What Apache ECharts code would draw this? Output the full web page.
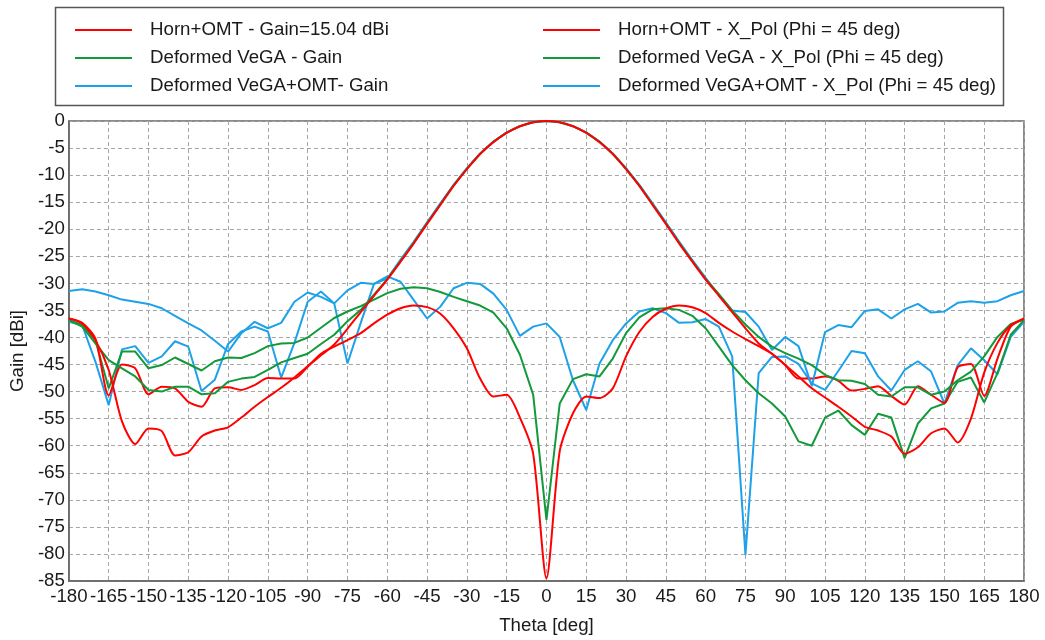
<!DOCTYPE html>
<html>
<head>
<meta charset="utf-8">
<script src="https://cdn.jsdelivr.net/npm/echarts@6/dist/echarts.min.js"></script>
<style>
  html, body { margin: 0; padding: 0; background: #fff; }
  #chart { width: 1045px; height: 640px; }
</style>
</head>
<body>
<div id="chart"></div>
<script>
// Theta samples (deg), one every 5 degrees
const theta = [
  -180, -175, -170, -165, -160, -155, -150, -145, -140, -135, -130, -125, -120,
  -115, -110, -105, -100, -95, -90, -85, -80, -75, -70, -65, -60, -55, -50,
  -45, -40, -35, -30, -25, -20, -15, -10, -5, 0, 5, 10, 15, 20, 25, 30,
  35, 40, 45, 50, 55, 60, 65, 70, 75, 80, 85, 90, 95, 100, 105, 110,
  115, 120, 125, 130, 135, 140, 145, 150, 155, 160, 165, 170, 175, 180
];

// Horn+OMT co-polar gain, normalised (dB)
const hornGain = [
  -36.5, -37.4, -40.5, -46.0, -55.5, -59.7, -56.8, -57.3, -61.8, -61.2, -58.3, -57.2, -56.6,
  -54.8, -52.8, -51.0, -49.3, -47.4, -45.3, -43.3, -41.3, -38.4, -35.3, -32.3, -29.3, -26.0, -22.6,
  -19.0, -15.5, -12.0, -8.9, -6.1, -3.9, -2.2, -0.98, -0.25, 0, -0.25, -0.98, -2.2, -3.9, -6.1, -8.9,
  -12.0, -15.5, -19.0, -22.6, -26.0, -29.3, -32.3, -35.3, -38.3, -41.1, -43.0, -45.1, -47.2, -49.4, -51.1, -52.8,
  -54.6, -56.5, -57.2, -58.3, -61.5, -60.3, -57.7, -56.8, -59.4, -55.0, -46.5, -41.0, -37.8, -36.5
];

// Deformed VeGA co-polar gain
const vegaGain = [
  -36.8, -38.0, -41.1, -44.2, -45.7, -47.2, -49.7, -50.0, -49.1, -49.1, -50.5, -50.3, -48.2,
  -47.6, -47.3, -46.0, -44.6, -43.8, -43.0, -41.2, -39.5, -37.0, -34.9, -32.1, -29.2, -25.9, -22.5,
  -18.9, -15.4, -11.9, -8.85, -6.05, -3.85, -2.15, -0.96, -0.24, 0, -0.24, -0.96, -2.15, -3.85, -6.05, -8.85,
  -11.9, -15.4, -18.9, -22.5, -25.9, -29.2, -32.0, -35.0, -37.6, -39.9, -41.7, -42.9, -43.9, -45.1, -46.9, -47.9,
  -48.0, -48.6, -50.6, -50.9, -49.2, -49.2, -50.6, -50.0, -47.9, -46.3, -43.5, -39.9, -37.5, -36.7
];

// Deformed VeGA+OMT co-polar gain
const vegaOmtGain = [
  -31.4, -31.1, -31.5, -32.2, -33.0, -33.4, -33.8, -34.6, -36.0, -37.4, -38.7, -40.6, -42.6,
  -39.2, -37.1, -38.3, -37.3, -33.4, -31.7, -32.5, -33.7, -31.3, -29.9, -30.1, -29.1, -25.6, -22.3,
  -18.7, -15.2, -11.8, -8.7, -6.0, -3.8, -2.1, -0.95, -0.24, 0, -0.24, -0.95, -2.1, -3.8, -6.0, -8.7,
  -11.8, -15.2, -18.7, -22.3, -25.7, -29.0, -32.2, -35.0, -35.3, -38.0, -42.3, -39.9, -41.6, -49.0, -39.0, -37.7,
  -38.1, -35.1, -34.8, -36.5, -34.8, -33.8, -35.4, -35.2, -33.6, -33.3, -33.6, -33.3, -32.2, -31.4
];

// Horn+OMT cross-polar level, Phi = 45 deg
const hornXpol = [
  -36.5, -37.3, -40.2, -50.7, -45.0, -45.7, -50.5, -49.1, -49.4, -51.9, -52.8, -49.4, -49.2,
  -49.7, -48.8, -47.5, -47.6, -47.6, -45.4, -43.0, -41.7, -40.5, -39.2, -37.4, -35.8, -34.6, -34.1,
  -34.4, -35.6, -38.3, -42.0, -47.6, -50.9, -50.6, -54.8, -61.5, -84.5, -61.0, -54.0, -50.9, -51.2, -49.4, -43.5,
  -39.0, -36.2, -34.7, -34.1, -34.4, -35.5, -37.3, -38.9, -40.3, -41.6, -43.0, -45.1, -47.6, -47.6, -47.2, -48.0,
  -49.8, -49.5, -49.0, -50.8, -52.4, -49.0, -50.6, -52.1, -45.5, -44.9, -50.8, -43.9, -38.0, -36.6
];

// Deformed VeGA cross-polar level, Phi = 45 deg
const vegaXpol = [
  -36.8, -37.7, -40.5, -49.4, -42.6, -42.6, -45.7, -45.1, -43.7, -44.9, -46.1, -44.4, -43.7,
  -43.8, -42.9, -41.6, -41.1, -41.0, -40.0, -38.2, -36.4, -35.2, -34.2, -33.0, -31.8, -31.0, -30.7,
  -30.9, -31.6, -32.5, -33.3, -34.1, -35.4, -38.3, -43.2, -50.6, -73.7, -52.2, -47.7, -46.8, -47.2, -43.9, -39.2,
  -36.3, -34.8, -34.6, -34.9, -36.0, -38.3, -41.7, -45.1, -47.9, -50.3, -52.2, -54.6, -59.2, -60.0, -54.8, -53.5,
  -56.2, -58.0, -54.1, -54.8, -62.3, -55.9, -53.1, -52.2, -48.2, -47.4, -52.0, -46.6, -39.5, -36.8
];

// Deformed VeGA+OMT cross-polar level, Phi = 45 deg
const vegaOmtXpol = [
  -37.1, -37.7, -44.5, -52.5, -42.2, -41.6, -44.7, -43.5, -40.7, -41.7, -49.9, -47.8, -41.2,
  -38.9, -38.0, -38.9, -47.4, -41.0, -33.4, -31.5, -33.7, -44.8, -37.3, -30.1, -28.7, -29.7, -33.1,
  -36.5, -34.3, -30.9, -29.9, -30.1, -31.9, -34.9, -39.7, -38.0, -37.4, -39.9, -47.9, -53.4, -44.8, -40.5, -37.4,
  -35.2, -34.6, -35.5, -37.3, -37.2, -36.6, -38.0, -43.5, -80.2, -46.6, -43.6, -43.5, -44.9, -48.5, -49.7, -46.2,
  -42.5, -42.9, -47.2, -49.8, -46.0, -44.4, -46.3, -52.2, -45.1, -42.0, -44.2, -46.8, -39.9, -37.1
];

const names = {
  hornGain: 'Horn+OMT - Gain=15.04 dBi',
  vegaGain: 'Deformed VeGA - Gain',
  vegaOmtGain: 'Deformed VeGA+OMT- Gain',
  hornXpol: 'Horn+OMT - X_Pol (Phi = 45 deg)',
  vegaXpol: 'Deformed VeGA - X_Pol (Phi = 45 deg)',
  vegaOmtXpol: 'Deformed VeGA+OMT - X_Pol (Phi = 45 deg)'
};

const RED = '#ff0000';
const GREEN = '#12993a';
const BLUE = '#1da1e8';
const FONT = '"Liberation Sans", Arial, sans-serif';
const FS = 18.7;
const TEXT = '#1a1a1a';

function pairs(values) {
  return theta.map((t, i) => [t, values[i]]);
}

function line(name, values, color, z, smooth) {
  return {
    name: name,
    type: 'line',
    data: pairs(values),
    symbol: 'none',
    showSymbol: false,
    smooth: smooth || false,
    z: z,
    lineStyle: { color: color, width: 2 },
    itemStyle: { color: color },
    emphasis: { disabled: true }
  };
}

const legendCommon = {
  orient: 'vertical',
  top: 19,
  padding: 0,
  icon: 'rect',
  itemWidth: 57,
  itemHeight: 2,
  itemGap: 6,
  selectedMode: false,
  textStyle: { fontFamily: FONT, fontSize: FS, color: TEXT, lineHeight: 22, padding: [0, 0, 0, 13] }
};

const chart = echarts.init(document.getElementById('chart'), null, { renderer: 'canvas' });

chart.setOption({
  animation: false,
  backgroundColor: '#ffffff',
  textStyle: { fontFamily: FONT },
  graphic: [{
    type: 'rect',
    z: 0,
    shape: { x: 55.5, y: 7.5, width: 948, height: 98 },
    style: { fill: '#ffffff', stroke: '#555555', lineWidth: 1.5 }
  }],
  legend: [
    Object.assign({}, legendCommon, { left: 75, data: [names.hornGain, names.vegaGain, names.vegaOmtGain] }),
    Object.assign({}, legendCommon, { left: 543, data: [names.hornXpol, names.vegaXpol, names.vegaOmtXpol] })
  ],
  grid: {
    left: 66, right: 21, top: 121, bottom: 59,
    show: true, borderColor: '#666666', borderWidth: 1.5, backgroundColor: '#ffffff'
  },
  xAxis: {
    type: 'value',
    min: -180, max: 180, interval: 15,
    name: 'Theta [deg]',
    nameLocation: 'middle',
    nameGap: 35,
    nameTextStyle: { fontFamily: FONT, fontSize: FS, color: TEXT },
    axisLine: { show: true, onZero: false, lineStyle: { color: '#666666', width: 1.5 } },
    axisTick: { show: false },
    axisLabel: { fontFamily: FONT, fontSize: FS, color: TEXT, margin: 6 },
    splitLine: { show: true, lineStyle: { color: '#a6a6a6', width: 1, type: [4, 3] } }
  },
  yAxis: {
    type: 'value',
    min: -85, max: 0, interval: 5,
    name: 'Gain [dBi]',
    nameLocation: 'middle',
    nameGap: 38,
    nameRotate: 90,
    nameTextStyle: { fontFamily: FONT, fontSize: FS, color: TEXT },
    axisLine: { show: true, onZero: false, lineStyle: { color: '#666666', width: 1.5 } },
    axisTick: { show: false },
    axisLabel: { fontFamily: FONT, fontSize: FS, color: TEXT, margin: 4 },
    splitLine: { show: true, lineStyle: { color: '#a6a6a6', width: 1, type: [4, 3] } }
  },
  series: [
    line(names.vegaOmtXpol, vegaOmtXpol, BLUE, 2),
    line(names.vegaXpol, vegaXpol, GREEN, 3),
    line(names.hornXpol, hornXpol, RED, 4, 0.25),
    line(names.vegaOmtGain, vegaOmtGain, BLUE, 5),
    line(names.vegaGain, vegaGain, GREEN, 6),
    line(names.hornGain, hornGain, RED, 7, 0.25)
  ]
});
</script>
</body>
</html>
